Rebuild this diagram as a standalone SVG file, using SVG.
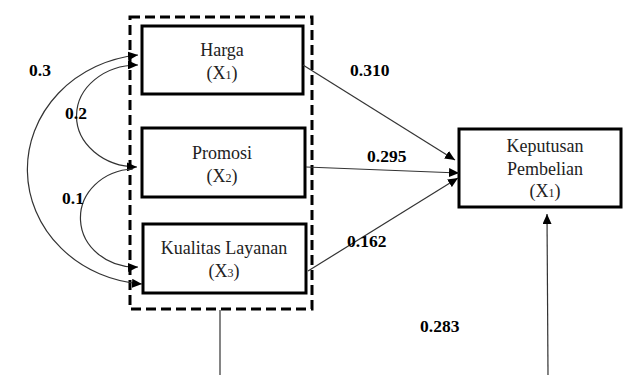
<svg xmlns="http://www.w3.org/2000/svg" width="623" height="375" viewBox="0 0 623 375">
<style>
.box{fill:#fff;stroke:#000;stroke-width:3}
.grp{fill:none;stroke:#000;stroke-width:3;stroke-dasharray:10 5}
.t{font-size:18px;fill:#222;text-anchor:middle}
.s{font-size:12px}
.lbl{font-size:17.5px;font-weight:bold;fill:#000}
.c{fill:none;stroke:#333;stroke-width:1.2}
</style>
<defs>
<marker id="ah" markerUnits="userSpaceOnUse" markerWidth="11" markerHeight="9" refX="10" refY="4.5" orient="auto-start-reverse">
<path d="M0,0 L10,4.5 L0,9 Z" fill="#000"/>
</marker>
</defs>
<rect id="group-box" class="grp" x="130" y="17" width="182" height="292"/>
<g id="harga" font-family="Liberation Serif, serif">
<rect class="box" x="142" y="26" width="161" height="68"/>
<text class="t" x="222" y="56">Harga</text>
<text class="t" x="222" y="79">(X<tspan class="s">1</tspan>)</text>
</g>
<g id="promosi" font-family="Liberation Serif, serif">
<rect class="box" x="142" y="128" width="163" height="69"/>
<text class="t" x="222" y="159">Promosi</text>
<text class="t" x="222" y="182">(X<tspan class="s">2</tspan>)</text>
</g>
<g id="kualitas" font-family="Liberation Serif, serif">
<rect class="box" x="143" y="224" width="163" height="69"/>
<text class="t" x="224" y="254">Kualitas Layanan</text>
<text class="t" x="224" y="277">(X<tspan class="s">3</tspan>)</text>
</g>
<g id="keputusan" font-family="Liberation Serif, serif">
<rect class="box" x="459" y="129" width="162" height="78"/>
<text class="t" x="545" y="152">Keputusan</text>
<text class="t" x="545" y="175">Pembelian</text>
<text class="t" x="545" y="197">(X<tspan class="s">1</tspan>)</text>
</g>
<g id="connectors">
<path class="c" d="M138,55 A124 115 0 0 0 142,284" marker-start="url(#ah)" marker-end="url(#ah)"/>
<path class="c" d="M138,65 A61 51 0 0 0 137,167" marker-start="url(#ah)" marker-end="url(#ah)"/>
<path class="c" d="M133,169 A55 49 0 0 0 138,267" marker-end="url(#ah)"/>
<line class="c" x1="303" y1="65" x2="455" y2="160" marker-end="url(#ah)"/>
<line class="c" x1="306" y1="167" x2="459" y2="173" marker-end="url(#ah)"/>
<line class="c" x1="308" y1="271" x2="458" y2="178" marker-end="url(#ah)"/>
<line class="c" x1="548" y1="375" x2="547" y2="214" marker-end="url(#ah)"/>
<line class="c" x1="220" y1="310" x2="220" y2="375" stroke-width="1.5"/>
</g>
<g id="labels" font-family="Liberation Serif, serif">
<text class="lbl" x="29" y="76">0.3</text>
<text class="lbl" x="65" y="119">0.2</text>
<text class="lbl" x="62" y="204">0.1</text>
<text class="lbl" x="350" y="76">0.310</text>
<text class="lbl" x="367" y="162">0.295</text>
<text class="lbl" x="347" y="247">0.162</text>
<text class="lbl" x="420" y="332">0.283</text>
</g>
</svg>
